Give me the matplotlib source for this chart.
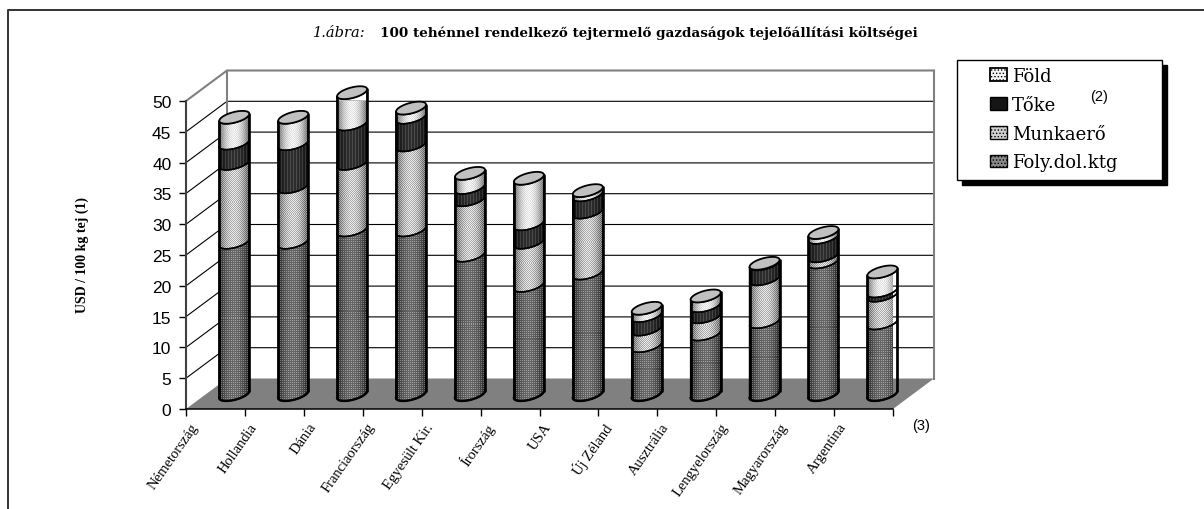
import numpy as np
import matplotlib
matplotlib.use('agg')
import matplotlib.pyplot as plt
from matplotlib.lines import Line2D
from matplotlib.patches import Patch, Polygon, Rectangle
from matplotlib.transforms import ScaledTranslation

countries = ['Németország', 'Hollandia', 'Dánia', 'Franciaország', 'Egyesült Kir.', 'Írország',
             'USA', 'Új Zéland', 'Ausztrália', 'Lengyelország', 'Magyarország', 'Argentina']
foly = [24.7, 24.7, 26.7, 26.7, 22.6, 17.7, 19.7, 7.9, 9.8, 11.8, 21.5, 11.6]
munka = [12.8, 9.0, 10.8, 13.8, 9.0, 7.0, 9.9, 2.7, 2.8, 6.95, 1.0, 4.5]
toke = [3.3, 7.0, 6.4, 4.5, 2.0, 3.0, 2.8, 2.2, 1.8, 2.45, 3.0, 0.7]
fold = [4.2, 4.3, 5.1, 1.5, 2.3, 7.4, 0.7, 1.2, 1.6, 0.1, 0.8, 3.1]
y_ticks = [0, 5, 10, 15, 20, 25, 30, 35, 40, 45, 50]

W, H = 1204, 510
SX = 58.92   # pixels per category
SY = 6.16    # pixels per USD
DX = 41 / SX  # depth of the 3d box
DY = 30.5 / SY
A = 15 / SX   # cylinder half width
TILT = 3.5 / SY
C = 5.4 / SY
BASE = 2.35
GREY = '#808080'


def texture(kind, nx, ny):
    ix, iy = np.meshgrid(np.arange(nx), np.arange(ny))
    u = np.linspace(-1, 1, nx)
    round_ = (1 - u ** 2)[None, :]
    if kind == 'foly':
        img = (0.16 + 0.24 * round_) + 0.24 * ((ix % 2 == 0) & (iy % 2 == 0))
    elif kind == 'munka':
        img = (0.42 + 0.38 * round_) + 0.13 * (((ix + iy) % 2 == 0) * 2 - 1)
    elif kind == 'toke':
        img = (0.06 + 0.12 * round_) + 0.12 * (ix % 3 == 0)
    else:
        img = (0.45 + 0.48 * round_) + 0.05 * (((ix + iy) % 2 == 0) * 2 - 1)
    return np.clip(img, 0, 1)


def curve(cx, y, left_to_right=True):
    t = np.linspace(np.pi, 2 * np.pi, 30)
    if not left_to_right:
        t = t[::-1]
    return np.column_stack([cx + A * np.cos(t), y + TILT * np.cos(t) + C * np.sin(t)])


plt.rcParams['font.family'] = ['Liberation Serif', 'DejaVu Serif']
fig = plt.figure(figsize=(W / 100, H / 100), dpi=100, facecolor='white')
ax = fig.add_axes([186 / W, 1 - 410 / H, (893 - 186) / W, 308 / H])
ax.patch.set_visible(False)
ax.set_xlim(0, 12)
ax.set_ylim(0, 50)
ax.set_autoscale_on(False)

# 3d box: floor, walls and gridlines
ax.add_patch(Polygon([(0, 0), (12, 0), (12 + DX, DY), (DX, DY)], closed=True, fc=GREY, ec='none',
                     clip_on=False, zorder=1))
for v in y_ticks[1:]:
    col = GREY if v == 50 else 'black'
    lw = 1.5 if v == 50 else 0.8
    ax.plot([0, DX, 12 + DX], [v, v + DY, v + DY], color=col, lw=lw, clip_on=False, zorder=1,
            solid_joinstyle='miter')
ax.plot([DX, DX], [DY, 50 + DY], color=GREY, lw=1.5, clip_on=False, zorder=1.1)
ax.plot([12 + DX, 12 + DX], [DY, 50 + DY], color=GREY, lw=1.5, clip_on=False, zorder=1.1)

# stacked cylinders
for i in range(len(countries)):
    cx = i + 0.82
    bottom = BASE
    z = 2 + i
    for kind, vals in [('foly', foly), ('munka', munka), ('toke', toke), ('fold', fold)]:
        top = bottom + vals[i]
        outline = np.vstack([curve(cx, bottom), curve(cx, top, False)])
        poly = Polygon(outline, closed=True, fc='none', ec='black', lw=1.1, clip_on=False, zorder=z + 0.2)
        ax.add_patch(poly)
        ylo, yhi = bottom - TILT - C, top + TILT + C
        nx, ny = 30, max(2, int((yhi - ylo) * SY))
        im = ax.imshow(texture(kind, nx, ny), extent=(cx - A, cx + A, ylo, yhi), origin='lower',
                       cmap='gray', vmin=0, vmax=1, aspect='auto', interpolation='nearest', zorder=z)
        im.set_clip_path(poly)
        bottom = top
    t = np.linspace(0, 2 * np.pi, 60)
    ax.add_patch(Polygon(np.column_stack([cx + A * np.cos(t), bottom + TILT * np.cos(t) + C * np.sin(t)]),
                         closed=True, fc='#c0c0c0', ec='black', lw=1.3, clip_on=False, zorder=z + 0.4))
    for side in (-1, 1):
        ax.plot([cx + side * A] * 2, [BASE + side * TILT, bottom + side * TILT], color='black', lw=1.9,
                clip_on=False, zorder=z + 0.3, solid_capstyle='round')
    ax.plot(*curve(cx, BASE).T, color='black', lw=1.7, clip_on=False, zorder=z + 0.3)

# axes
for name in ('top', 'right'):
    ax.spines[name].set_visible(False)
ax.spines['left'].set_color('#404040')
ax.spines['left'].set_linewidth(1.5)
ax.spines['left'].set_zorder(20)
ax.spines['bottom'].set_color('black')
ax.spines['bottom'].set_linewidth(1.1)
ax.spines['bottom'].set_zorder(20)
ax.set_yticks(y_ticks)
ax.set_yticklabels([str(v) for v in y_ticks], family='Liberation Sans', fontsize=12.5)
ax.tick_params(axis='y', length=5, width=1, pad=5.5)
ax.set_xticks(range(13))
ax.set_xticklabels(countries + [''], rotation=55, ha='right', va='top', rotation_mode='anchor',
                   fontsize=10.5, family='Liberation Serif')
ax.tick_params(axis='x', length=5, width=1, pad=3)
shift = ScaledTranslation(4 / 100, 0, fig.dpi_scale_trans)
for lab in ax.get_xticklabels():
    lab.set_transform(lab.get_transform() + shift)

fig.text(82 / W, 1 - 255 / H, 'USD / 100 kg tej (1)', rotation=90, ha='center', va='center',
         fontsize=10, fontweight='bold', family='Liberation Serif')

# title, wide serif stands in for the letter-spaced original
fig.text(313 / W, 1 - 33 / H, '1.ábra:', ha='left', va='center', fontsize=10.5, style='italic',
         family='DejaVu Serif')
fig.text(380 / W, 1 - 33 / H, '100 tehénnel rendelkező tejtermelő gazdaságok tejelőállítási költségei',
         ha='left', va='center', fontsize=9.7, fontweight='bold', family='DejaVu Serif')

fig.text(1090 / W, 1 - 97 / H, '(2)', ha='left', va='center', fontsize=10.5, family='Liberation Sans')
fig.text(912 / W, 1 - 426 / H, '(3)', ha='left', va='center', fontsize=10.5, family='Liberation Sans')

# legend box with hard shadow
fig.add_artist(Rectangle((962 / W, 1 - 186 / H), 205 / W, 120 / H, transform=fig.transFigure,
                         fc='black', ec='black', zorder=-2))
fig.add_artist(Rectangle((957 / W, 1 - 181 / H), 205 / W, 120 / H, transform=fig.transFigure,
                         fc='white', ec='black', lw=1, zorder=-1))
plt.rcParams['hatch.linewidth'] = 0.6
handles = [Patch(fc='#f4f4f4', ec='black', lw=1.3, hatch='.....', label='Föld'),
           Patch(fc='#151515', ec='black', lw=1, label='Tőke'),
           Patch(fc='#d0d0d0', ec='black', lw=1, hatch='.....', label='Munkaerő'),
           Patch(fc='#8a8a8a', ec='black', lw=1, hatch='.....', label='Foly.dol.ktg')]
ax.legend(handles=handles, loc='upper left', bbox_to_anchor=(990 / W, 1 - 68 / H), bbox_transform=fig.transFigure,
          frameon=False, borderpad=0, borderaxespad=0, handlelength=0.95, handleheight=0.68, handletextpad=0.28,
          labelspacing=0.6, prop={'family': 'DejaVu Serif', 'size': 13})

# page frame
fig.add_artist(Line2D([8 / W, 8 / W, 1], [0, 1 - 11 / H, 1 - 11 / H], color='#333333', lw=1.4))

fig.savefig('out.png', dpi=100, facecolor='white')
